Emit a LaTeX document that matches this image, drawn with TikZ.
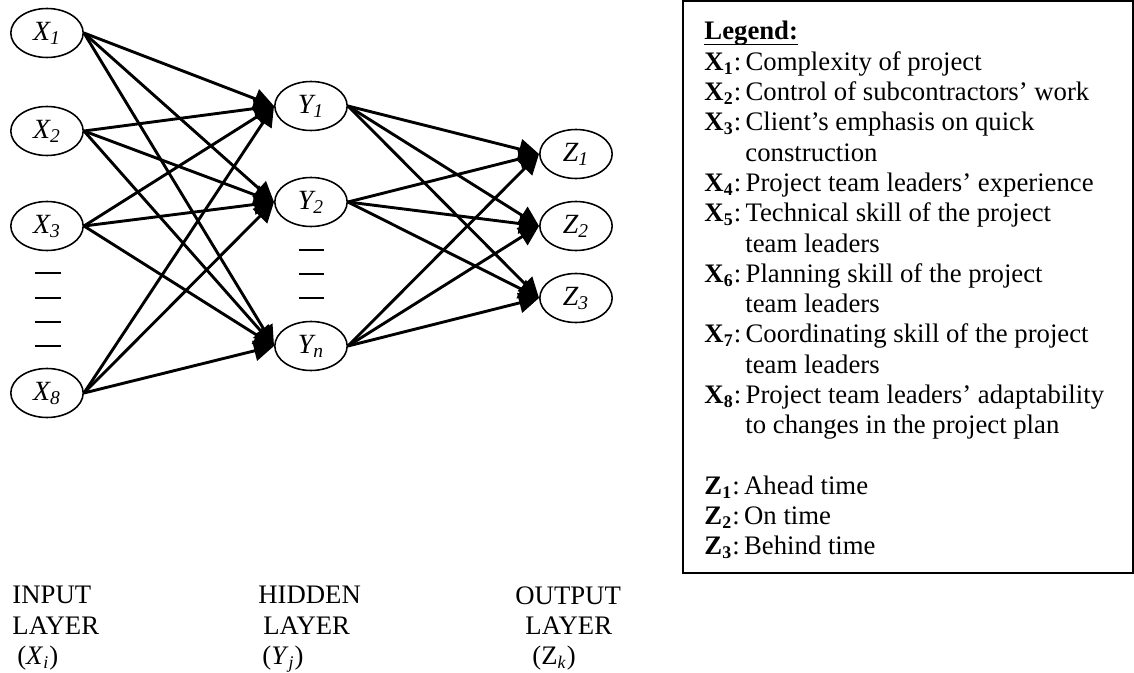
\documentclass[tikz,border=0pt]{standalone}
\usepackage{fontspec}
\setmainfont{Liberation Serif}
\usetikzlibrary{shapes.geometric,arrows.meta}

\begin{document}
\begin{tikzpicture}[
        x=0.449pt, y=-0.449pt,
        every node/.style={font=\fontsize{12}{13.6}\selectfont},
        neuron/.style={draw, ellipse, line width=0.7pt, minimum width=32.5pt, minimum height=22pt, inner sep=0pt, font=\fontsize{12.5}{13.6}\selectfont\itshape},
        link/.style={draw, line width=1.3pt, -{Triangle[length=9pt,width=9pt]}},
        textblock/.style={anchor=north west, align=left, inner sep=0pt}
        ]
        \useasboundingbox (0,0) rectangle (1134,673);

        % Input layer
        \node[neuron] (x1) at (47,33) {X\textsubscript{1}};
        \node[neuron] (x2) at (47,131) {X\textsubscript{2}};
        \node[neuron] (x3) at (47,226) {X\textsubscript{3}};
        \node[neuron] (x8) at (47,393) {X\textsubscript{8}};
        % Hidden layer
        \node[neuron] (y1) at (311,106) {Y\textsubscript{1}};
        \node[neuron] (y2) at (311,202) {Y\textsubscript{2}};
        \node[neuron] (yn) at (311,346) {Y\textsubscript{n}};
        % Output layer
        \node[neuron] (z1) at (576,154) {Z\textsubscript{1}};
        \node[neuron] (z2) at (576,226) {Z\textsubscript{2}};
        \node[neuron] (z3) at (576,298) {Z\textsubscript{3}};

        \foreach \y in {273,298,322,346} \draw[line width=0.7pt] (35,\y) -- (61,\y);
        \foreach \y in {250,274,298} \draw[line width=0.7pt] (299,\y) -- (324,\y);

        \foreach \i in {x1,x2,x3,x8}
            \foreach \j in {y1,y2,yn}
                \draw[link] (\i.east) -- (\j.west);
        \foreach \i in {y1,y2,yn}
            \foreach \j in {z1,z2,z3}
                \draw[link] (\i.east) -- (\j.west);

        % Layer names
        \node[textblock] (inlayer) at (12,586) {INPUT\\LAYER\\\hspace*{2.2pt}(\textit{X}\textsubscript{\textit{i}})};
        \node[textblock] (hidlayer) at (258,586) {HIDDEN\\\hspace*{2.2pt}LAYER\\\hspace*{1.8pt}(\textit{Y}\textsubscript{\textit{j}})};
        \node[textblock] (outlayer) at (515,586) {OUTPUT\\\hspace*{4.5pt}LAYER\\\hspace*{7.6pt}(Z\textsubscript{\textit{k}})};

        % Legend
        \draw[line width=0.9pt] (683,1) rectangle (1133,573);
        \node[textblock] (legend) at (704,21) {\underline{\raisebox{0pt}[\height][0.6pt]{\textbf{Legend:}}}\\
        \textbf{X\textsubscript{1}}:\,Complexity of project\\
        \textbf{X\textsubscript{2}}:\,Control of subcontractors’ work\\
        \textbf{X\textsubscript{3}}:\,Client’s emphasis on quick\\
        \hspace*{18.4pt}construction\\
        \textbf{X\textsubscript{4}}:\,Project team leaders’ experience\\
        \textbf{X\textsubscript{5}}:\,Technical skill of the project\\
        \hspace*{18.4pt}team leaders\\
        \textbf{X\textsubscript{6}}:\,Planning skill of the project\\
        \hspace*{18.4pt}team leaders\\
        \textbf{X\textsubscript{7}}:\,Coordinating skill of the project\\
        \hspace*{18.4pt}team leaders\\
        \textbf{X\textsubscript{8}}:\,Project team leaders’ adaptability\\
        \hspace*{18.4pt}to changes in the project plan\\[13.6pt]
        \textbf{Z\textsubscript{1}}:\,Ahead time\\
        \textbf{Z\textsubscript{2}}:\,On time\\
        \textbf{Z\textsubscript{3}}:\,Behind time};
\end{tikzpicture}
\end{document}
